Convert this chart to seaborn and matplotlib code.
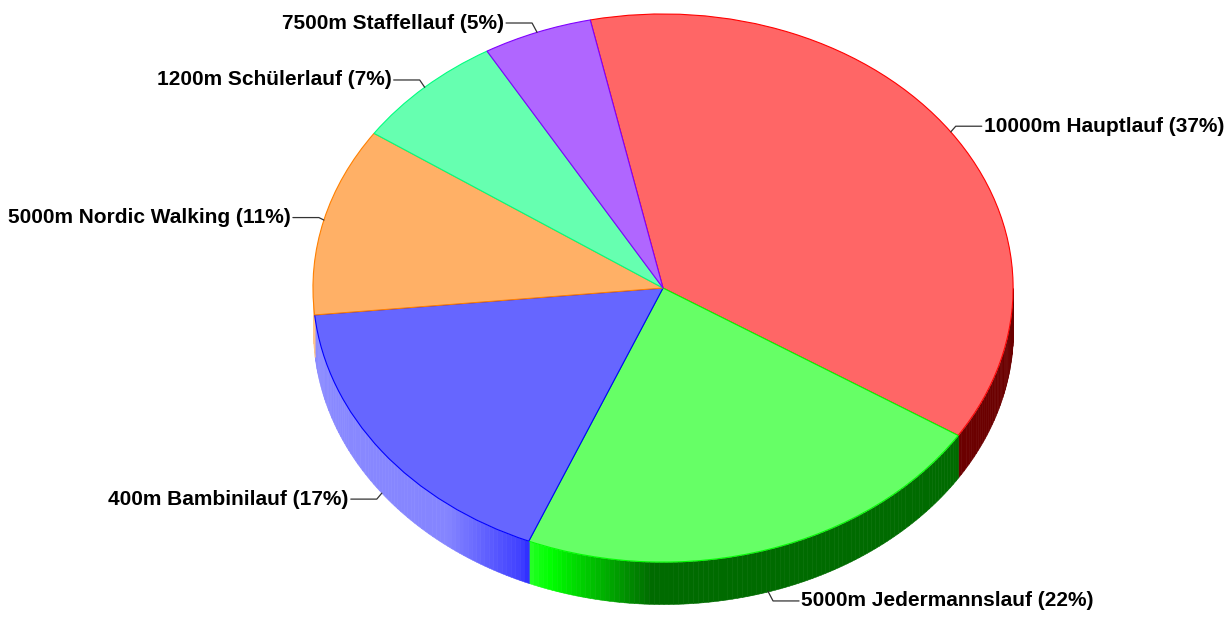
import numpy as np
import matplotlib
matplotlib.use("Agg")
import matplotlib.pyplot as plt
import seaborn as sns
from matplotlib.colors import to_rgb

labels = ["10000m Hauptlauf", "5000m Jedermannslauf", "400m Bambinilauf",
          "5000m Nordic Walking", "1200m Schülerlauf", "7500m Staffellauf"]
shares = [37, 22, 17, 11, 7, 5]
top_colors = ["#ff6666", "#66ff66", "#6666ff", "#ffb066", "#66ffb0", "#b066ff"]
edge_colors = ["#ff0000", "#00ff00", "#0000ff", "#ff8000", "#00ff80", "#8000ff"]

sns.set_theme(style="white")
plt.rcParams['font.family'] = ['Liberation Sans', 'DejaVu Sans']

fig = plt.figure(figsize=(12.27, 6.18), dpi=100)
ax = fig.add_axes([0, 0, 1, 1])

wedges, _ = ax.pie(shares, colors=top_colors, startangle=102, counterclock=False,
                   radius=1, wedgeprops=dict(linewidth=0.8))
for w, ec in zip(wedges, edge_colors):
    w.set_edgecolor(ec)
    w.set_zorder(3)

# side wall of the "3d" pie, shaded by angle
depth = 0.153
shade_t = [-180, -128, -114, -111, -92, 0]
shade_v = [0.55, 0.52, 0.25, 0.08, -0.58, -0.58]


def shade(c, b):
    c = np.array(c)
    if b >= 0:
        return c + (1 - c) * b
    return c * (1 + b)


for w, ec in zip(wedges, edge_colors):
    base = to_rgb(ec)
    for s in (-360, 0, 360):
        lo = max(w.theta1 + s, -180)
        hi = min(w.theta2 + s, 0)
        if hi <= lo:
            continue
        n = max(2, int((hi - lo) / 0.8))
        ts = np.linspace(lo, hi, n)
        for a, b in zip(ts[:-1], ts[1:]):
            col = shade(base, np.interp((a + b) / 2, shade_t, shade_v))
            xs = np.cos(np.deg2rad([a, b]))
            ys = np.sin(np.deg2rad([a, b]))
            ax.fill_between(xs, ys, ys - depth, color=col, lw=0.4, ec=col, zorder=1)

# labels with leader lines
px_x, px_y = 1 / 350, 1 / 274
for w, lab, sh in zip(wedges, labels, shares):
    m = np.deg2rad((w.theta1 + w.theta2) / 2)
    cx, cy = np.cos(m), np.sin(m)
    if cy < 0:
        cy -= depth
    sx = 1 if np.cos(m) >= 0 else -1
    sy = 1 if np.sin(m) >= 0 else -1
    ex = cx + sx * 5 * px_x
    ey = cy + sy * 10 * abs(np.sin(m)) * px_y
    tx = ex + sx * 26 * px_x
    ax.plot([cx, ex, tx], [cy, ey, ey], color='#333333', lw=0.9, zorder=4)
    ax.text(tx + sx * 2 * px_x, ey, f"{lab} ({sh}%)", ha='left' if sx > 0 else 'right',
            va='center', fontsize=15, fontweight='bold', color='black')

ax.set_aspect('auto')
ax.set_xlim(-1.894, 1.611)
ax.set_ylim(-1.204, 1.051)
ax.axis('off')

plt.savefig('out.png', dpi=100)
